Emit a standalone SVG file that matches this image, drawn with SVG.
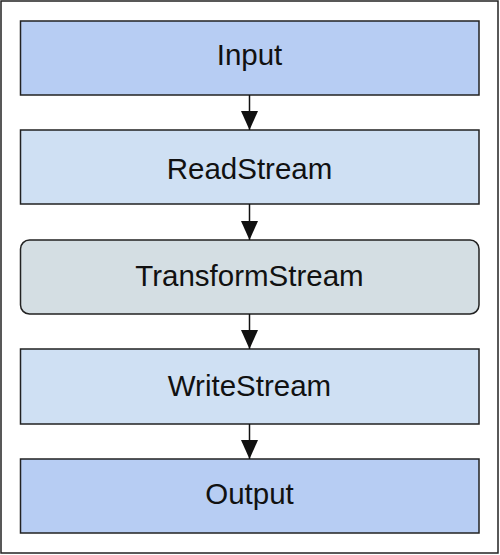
<svg xmlns="http://www.w3.org/2000/svg" width="500" height="555" viewBox="0 0 500 555">
<defs>
<marker id="ah" viewBox="0 0 19 17" refX="19" refY="8.5" markerWidth="19" markerHeight="17" markerUnits="userSpaceOnUse" orient="auto">
<path d="M0,0 L19,8.5 L0,17 Z" fill="#111"/>
</marker>
</defs>
<style>
.box{stroke:#222;stroke-width:1.5}
.io{fill:#b7cdf3}
.st{fill:#cfe0f3}
.tr{fill:#d4dee3}
.lbl{font-family:"Liberation Sans",Arial,sans-serif;font-size:29.5px;fill:#111;text-anchor:middle}
.con{stroke:#111;stroke-width:1.5;fill:none;marker-end:url(#ah)}
</style>
<rect x="1" y="1" width="497" height="552" fill="#fff" stroke="#222" stroke-width="1.5"/>
<g id="input"><rect class="box io" x="20.5" y="21" width="458.5" height="74"/><text class="lbl" x="249.5" y="65">Input</text></g>
<g id="readstream"><rect class="box st" x="20.5" y="130" width="458.5" height="74"/><text class="lbl" x="249.5" y="179">ReadStream</text></g>
<g id="transformstream"><rect class="box tr" x="20.5" y="240" width="458.5" height="74" rx="9"/><text class="lbl" x="249.5" y="286">TransformStream</text></g>
<g id="writestream"><rect class="box st" x="20.5" y="349" width="458.5" height="75"/><text class="lbl" x="249.5" y="396">WriteStream</text></g>
<g id="output"><rect class="box io" x="20.5" y="459" width="458.5" height="74"/><text class="lbl" x="249.5" y="504">Output</text></g>
<g id="connectors">
<line class="con" x1="249.5" y1="95" x2="249.5" y2="130"/>
<line class="con" x1="249.5" y1="204" x2="249.5" y2="240"/>
<line class="con" x1="249.5" y1="314" x2="249.5" y2="349"/>
<line class="con" x1="249.5" y1="424" x2="249.5" y2="459"/>
</g>
</svg>
